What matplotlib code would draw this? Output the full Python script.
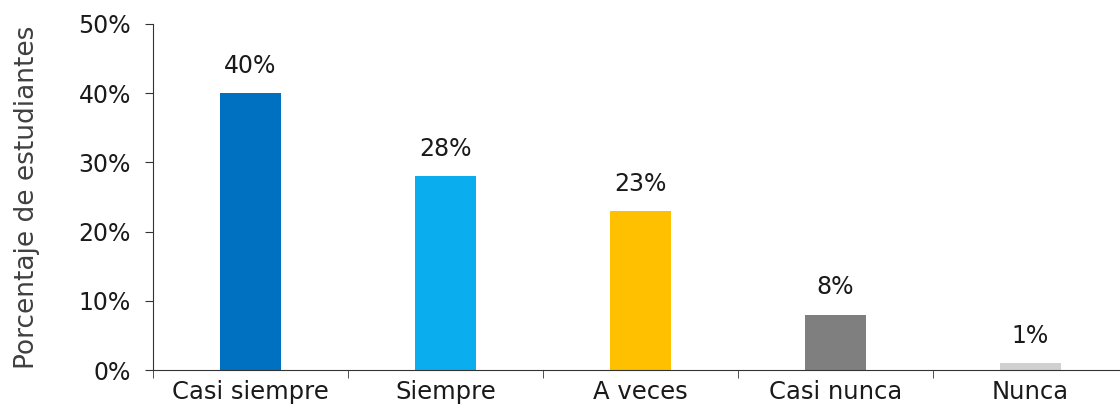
import matplotlib.pyplot as plt
from matplotlib.ticker import FuncFormatter, FixedLocator

categories = ["Casi siempre", "Siempre", "A veces", "Casi nunca", "Nunca"]
values = [40, 28, 23, 8, 1]
colors = ["#0070C0", "#0AAEEF", "#FFC000", "#7F7F7F", "#D0D0D0"]

plt.rcParams['font.family'] = ['DejaVu Sans']
fig = plt.figure(figsize=(11.2, 4.11), dpi=100)
ax = fig.add_axes([153/1120, 1 - 370/411, 975/1120, 346/411])

x = range(len(categories))
ax.bar(x, values, width=0.31, color=colors)
for i, v in enumerate(values):
    ax.text(i, v + 2.2, f"{v}%", ha="center", va="bottom", fontsize=17, color="#1a1a1a")

ax.set_xlim(-0.5, len(categories) - 0.5)
ax.set_ylim(0, 50)
ax.set_yticks([0, 10, 20, 30, 40, 50])
ax.yaxis.set_major_formatter(FuncFormatter(lambda v, p: f"{v:.0f}%"))
ax.set_xticks(list(x))
ax.set_xticklabels(categories)
ax.xaxis.set_minor_locator(FixedLocator([i - 0.5 for i in range(len(categories) + 1)]))
ax.tick_params(axis="x", which="major", length=0, labelsize=17.5, pad=7, labelcolor="#1a1a1a")
ax.tick_params(axis="x", which="minor", length=6, color="#333333")
ax.tick_params(axis="y", labelsize=17, length=6, color="#333333", pad=10, labelcolor="#1a1a1a")
ax.spines[["top", "right"]].set_visible(False)
for s in ["left", "bottom"]:
    ax.spines[s].set_color("#333333")
ax.set_ylabel("Porcentaje de estudiantes", fontsize=19, color="#404040")
ax.yaxis.set_label_coords(-0.116, 0.5)

fig.savefig("out.png", dpi=100)
